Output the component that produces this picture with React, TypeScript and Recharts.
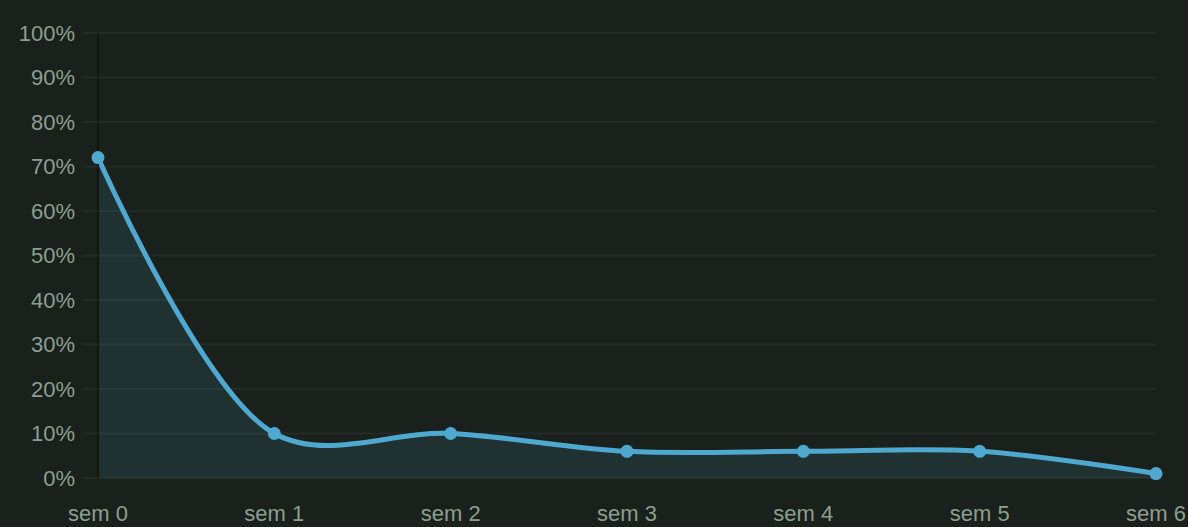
import { AreaChart, Area, XAxis, YAxis, CartesianGrid } from 'recharts';

const weeks = ['sem 0', 'sem 1', 'sem 2', 'sem 3', 'sem 4', 'sem 5', 'sem 6'];
const retention = [72, 10, 10, 6, 6, 6, 1];
const yTicks = [0, 10, 20, 30, 40, 50, 60, 70, 80, 90, 100];

const data = weeks.map((week, i) => ({ week, value: retention[i] }));

const BG = '#1a201b';
const GRID = '#232b26';
const LABEL = '#8c9e90';
const LINE = '#4fa8d0';

// centripetal catmull-rom (same maths as d3's curveCatmullRom, alpha 0.5)
const EPS = 1e-12;
class CatmullRom {
    _context: any;
    _alpha = 0.5;
    _line: number = NaN;
    _point = 0;
    _x0 = NaN; _x1 = NaN; _x2 = NaN;
    _y0 = NaN; _y1 = NaN; _y2 = NaN;
    _l01_a = 0; _l12_a = 0; _l23_a = 0;
    _l01_2a = 0; _l12_2a = 0; _l23_2a = 0;
    constructor(context: any) { this._context = context; }
    areaStart() { this._line = 0; }
    areaEnd() { this._line = NaN; }
    lineStart() {
        this._x0 = this._x1 = this._x2 = this._y0 = this._y1 = this._y2 = NaN;
        this._l01_a = this._l12_a = this._l23_a = this._l01_2a = this._l12_2a = this._l23_2a = this._point = 0;
    }
    lineEnd() {
        switch (this._point) {
            case 2: this._context.lineTo(this._x2, this._y2); break;
            case 3: this.point(this._x2, this._y2); break;
        }
        if (this._line || (this._line !== 0 && this._point === 1)) this._context.closePath();
        this._line = 1 - this._line;
    }
    bez(x: number, y: number) {
        let x1 = this._x1, y1 = this._y1, x2 = this._x2, y2 = this._y2;
        if (this._l01_a > EPS) {
            const a = 2 * this._l01_2a + 3 * this._l01_a * this._l12_a + this._l12_2a;
            const n = 3 * this._l01_a * (this._l01_a + this._l12_a);
            x1 = (x1 * a - this._x0 * this._l12_2a + this._x2 * this._l01_2a) / n;
            y1 = (y1 * a - this._y0 * this._l12_2a + this._y2 * this._l01_2a) / n;
        }
        if (this._l23_a > EPS) {
            const b = 2 * this._l23_2a + 3 * this._l23_a * this._l12_a + this._l12_2a;
            const m = 3 * this._l23_a * (this._l23_a + this._l12_a);
            x2 = (x2 * b + this._x1 * this._l23_2a - x * this._l12_2a) / m;
            y2 = (y2 * b + this._y1 * this._l23_2a - y * this._l12_2a) / m;
        }
        this._context.bezierCurveTo(x1, y1, x2, y2, this._x2, this._y2);
    }
    point(x: number, y: number) {
        x = +x; y = +y;
        if (this._point) {
            const x23 = this._x2 - x, y23 = this._y2 - y;
            this._l23_2a = Math.pow(x23 * x23 + y23 * y23, this._alpha);
            this._l23_a = Math.sqrt(this._l23_2a);
        }
        switch (this._point) {
            case 0:
                this._point = 1;
                if (this._line) this._context.lineTo(x, y); else this._context.moveTo(x, y);
                break;
            case 1:
                this._point = 2;
                break;
            case 2:
                this._point = 3;
                this.bez(x, y);
                break;
            default:
                this.bez(x, y);
                break;
        }
        this._l01_a = this._l12_a; this._l12_a = this._l23_a;
        this._l01_2a = this._l12_2a; this._l12_2a = this._l23_2a;
        this._x0 = this._x1; this._x1 = this._x2; this._x2 = x;
        this._y0 = this._y1; this._y1 = this._y2; this._y2 = y;
    }
}

const catmullRom = (context: any) => new CatmullRom(context);

const Dot = (props: any) => {
    const { cx, cy, index } = props;
    if (cx == null || cy == null) return null;
    return <circle key={`dot-${index}`} cx={cx} cy={cy} r={6.5} fill={LINE} />;
};

export default function App() {
    return (
        <div style={{ position: 'absolute', left: 0, top: 0, width: 1188, height: 527, background: BG, fontFamily: '"Liberation Sans", Arial, sans-serif' }}>
            <AreaChart width={1188} height={527} data={data} margin={{ top: 33, right: 32, bottom: 0, left: 0 }}>
                <CartesianGrid stroke={GRID} strokeWidth={2} vertical={false} />
                <XAxis
                    dataKey="week"
                    axisLine={false}
                    tickLine={false}
                    tickSize={0}
                    tickMargin={27}
                    height={49}
                    interval={0}
                    tick={{ fill: LABEL, fontSize: 22 }}
                />
                <YAxis
                    domain={[0, 100]}
                    ticks={yTicks}
                    width={98}
                    tickFormatter={(v) => `${v}%`}
                    axisLine={{ stroke: '#101512', strokeWidth: 2 }}
                    tickLine={{ stroke: GRID, strokeWidth: 2 }}
                    tickSize={16}
                    tickMargin={7}
                    tick={{ fill: LABEL, fontSize: 22 }}
                />
                <Area
                    type={catmullRom as any}
                    dataKey="value"
                    stroke={LINE}
                    strokeWidth={5}
                    fill={LINE}
                    fillOpacity={0.13}
                    dot={Dot}
                    activeDot={false}
                    isAnimationActive={false}
                />
            </AreaChart>
        </div>
    );
}
